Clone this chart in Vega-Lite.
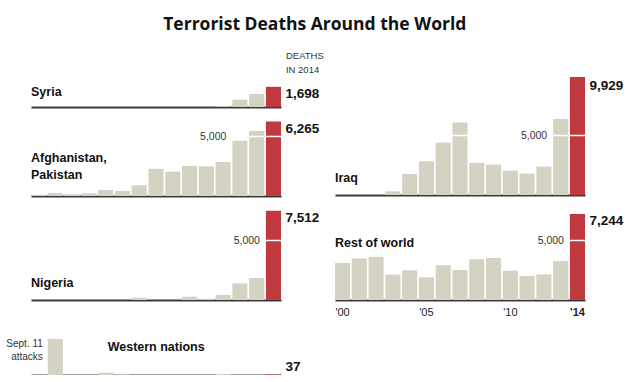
{
  "$schema": "https://vega.github.io/schema/vega-lite/v6.json",
  "background": "white",
  "padding": {"left": 6, "top": 15, "right": 0, "bottom": 0},
  "title": {"text": "Terrorist Deaths Around the World", "font": "Open Sans", "fontSize": 17.5, "fontWeight": "bold", "color": "#111", "anchor": "middle", "dx": 0, "offset": 14},
  "datasets": {
    "deaths": [
      {"region": "Syria", "year": 2011, "deaths": 60},
      {"region": "Syria", "year": 2012, "deaths": 620},
      {"region": "Syria", "year": 2013, "deaths": 1100},
      {"region": "Syria", "year": 2014, "deaths": 1698},
      {"region": "Afghanistan, Pakistan", "year": 2000, "deaths": 110},
      {"region": "Afghanistan, Pakistan", "year": 2001, "deaths": 250},
      {"region": "Afghanistan, Pakistan", "year": 2002, "deaths": 140},
      {"region": "Afghanistan, Pakistan", "year": 2003, "deaths": 225},
      {"region": "Afghanistan, Pakistan", "year": 2004, "deaths": 505},
      {"region": "Afghanistan, Pakistan", "year": 2005, "deaths": 420},
      {"region": "Afghanistan, Pakistan", "year": 2006, "deaths": 900},
      {"region": "Afghanistan, Pakistan", "year": 2007, "deaths": 2300},
      {"region": "Afghanistan, Pakistan", "year": 2008, "deaths": 2050},
      {"region": "Afghanistan, Pakistan", "year": 2009, "deaths": 2530},
      {"region": "Afghanistan, Pakistan", "year": 2010, "deaths": 2500},
      {"region": "Afghanistan, Pakistan", "year": 2011, "deaths": 2870},
      {"region": "Afghanistan, Pakistan", "year": 2012, "deaths": 4640},
      {"region": "Afghanistan, Pakistan", "year": 2013, "deaths": 5480},
      {"region": "Afghanistan, Pakistan", "year": 2014, "deaths": 6265},
      {"region": "Nigeria", "year": 2006, "deaths": 200},
      {"region": "Nigeria", "year": 2009, "deaths": 280},
      {"region": "Nigeria", "year": 2010, "deaths": 110},
      {"region": "Nigeria", "year": 2011, "deaths": 420},
      {"region": "Nigeria", "year": 2012, "deaths": 1400},
      {"region": "Nigeria", "year": 2013, "deaths": 1850},
      {"region": "Nigeria", "year": 2014, "deaths": 7512},
      {"region": "Western nations", "year": 2001, "deaths": 3030},
      {"region": "Western nations", "year": 2004, "deaths": 200},
      {"region": "Western nations", "year": 2005, "deaths": 56},
      {"region": "Western nations", "year": 2011, "deaths": 80},
      {"region": "Western nations", "year": 2014, "deaths": 37},
      {"region": "Iraq", "year": 2003, "deaths": 310},
      {"region": "Iraq", "year": 2004, "deaths": 1770},
      {"region": "Iraq", "year": 2005, "deaths": 2840},
      {"region": "Iraq", "year": 2006, "deaths": 4410},
      {"region": "Iraq", "year": 2007, "deaths": 6100},
      {"region": "Iraq", "year": 2008, "deaths": 2700},
      {"region": "Iraq", "year": 2009, "deaths": 2560},
      {"region": "Iraq", "year": 2010, "deaths": 2050},
      {"region": "Iraq", "year": 2011, "deaths": 1800},
      {"region": "Iraq", "year": 2012, "deaths": 2390},
      {"region": "Iraq", "year": 2013, "deaths": 6400},
      {"region": "Iraq", "year": 2014, "deaths": 9929},
      {"region": "Rest of world", "year": 2000, "deaths": 3120},
      {"region": "Rest of world", "year": 2001, "deaths": 3510},
      {"region": "Rest of world", "year": 2002, "deaths": 3625},
      {"region": "Rest of world", "year": 2003, "deaths": 2140},
      {"region": "Rest of world", "year": 2004, "deaths": 2500},
      {"region": "Rest of world", "year": 2005, "deaths": 1910},
      {"region": "Rest of world", "year": 2006, "deaths": 2920},
      {"region": "Rest of world", "year": 2007, "deaths": 2530},
      {"region": "Rest of world", "year": 2008, "deaths": 3430},
      {"region": "Rest of world", "year": 2009, "deaths": 3540},
      {"region": "Rest of world", "year": 2010, "deaths": 2470},
      {"region": "Rest of world", "year": 2011, "deaths": 2020},
      {"region": "Rest of world", "year": 2012, "deaths": 2160},
      {"region": "Rest of world", "year": 2013, "deaths": 3290},
      {"region": "Rest of world", "year": 2014, "deaths": 7244}
    ]
  },
  "spacing": 10,
  "hconcat": [
    {
      "spacing": 0,
      "bounds": "flush",
      "vconcat": [
        {
          "width": 250, "height": 60,
          "data": {"name": "deaths"},
          "transform": [{"filter": "datum.region === 'Syria'"}],
          "layer": [
            {"mark": {"type": "bar"}, "encoding": {
              "x": {"field": "year", "type": "ordinal", "title": null, "scale": {"domain": [2000,2001,2002,2003,2004,2005,2006,2007,2008,2009,2010,2011,2012,2013,2014], "paddingInner": 0.1, "paddingOuter": 0}},
              "y": {"field": "deaths", "type": "quantitative", "axis": null, "scale": {"domain": [0, 5050], "nice": false}},
              "color": {"condition": {"test": "datum.year === 2014", "value": "#c0393f"}, "value": "#d4d3c3"}}},
            {"transform": [{"filter": "datum.year === 2014"}], "mark": {"type": "text", "align": "left", "baseline": "top", "dx": 12, "dy": 0, "fontSize": 13.5, "fontWeight": "bold", "color": "#111"}, "encoding": {"x": {"field": "year", "type": "ordinal"}, "y": {"field": "deaths", "type": "quantitative"}, "text": {"field": "deaths", "type": "quantitative", "format": ","}}},
            {"data": {"values": [{}]}, "mark": {"type": "text", "text": "Syria", "align": "left", "baseline": "alphabetic", "dx": -7.55, "fontSize": 12.5, "fontWeight": "bold", "color": "#111"}, "encoding": {"x": {"datum": 2000, "type": "ordinal"}, "y": {"datum": 960}}},
            {"data": {"values": [{}]}, "mark": {"type": "text", "text": ["DEATHS", "IN 2014"], "align": "left", "baseline": "middle", "dx": 12.5, "lineHeight": 14, "fontSize": 9.5, "color": "#333"}, "encoding": {"x": {"datum": 2014, "type": "ordinal"}, "y": {"datum": 4268}}}
          ]
        },
        {
          "width": 250, "height": 89,
          "data": {"name": "deaths"},
          "transform": [{"filter": "datum.region === 'Afghanistan, Pakistan'"}],
          "layer": [
            {"mark": {"type": "bar"}, "encoding": {
              "x": {"field": "year", "type": "ordinal", "title": null, "scale": {"domain": [2000,2001,2002,2003,2004,2005,2006,2007,2008,2009,2010,2011,2012,2013,2014], "paddingInner": 0.1, "paddingOuter": 0}},
              "y": {"field": "deaths", "type": "quantitative", "axis": null, "scale": {"domain": [0, 7492], "nice": false}},
              "color": {"condition": {"test": "datum.year === 2014", "value": "#c0393f"}, "value": "#d4d3c3"}}},
            {"data": {"values": [{}]}, "mark": {"type": "rule", "color": "white", "strokeWidth": 1.5}, "encoding": {"y": {"datum": 5000}}},
            {"data": {"values": [{}]}, "mark": {"type": "text", "text": "5,000", "align": "right", "baseline": "middle", "dx": -13.5, "fontSize": 10.5, "color": "#333"}, "encoding": {"x": {"datum": 2012, "type": "ordinal"}, "y": {"datum": 5000}}},
            {"transform": [{"filter": "datum.year === 2014"}], "mark": {"type": "text", "align": "left", "baseline": "top", "dx": 12, "dy": 0, "fontSize": 13.5, "fontWeight": "bold", "color": "#111"}, "encoding": {"x": {"field": "year", "type": "ordinal"}, "y": {"field": "deaths", "type": "quantitative"}, "text": {"field": "deaths", "type": "quantitative", "format": ","}}},
            {"data": {"values": [{}]}, "mark": {"type": "text", "text": ["Afghanistan,", "Pakistan"], "align": "left", "baseline": "alphabetic", "dx": -7.55, "lineHeight": 17, "fontSize": 12.5, "fontWeight": "bold", "color": "#111"}, "encoding": {"x": {"datum": 2000, "type": "ordinal"}, "y": {"datum": 2890}}}
          ]
        },
        {
          "width": 250, "height": 104,
          "data": {"name": "deaths"},
          "transform": [{"filter": "datum.region === 'Nigeria'"}],
          "layer": [
            {"mark": {"type": "bar"}, "encoding": {
              "x": {"field": "year", "type": "ordinal", "title": null, "scale": {"domain": [2000,2001,2002,2003,2004,2005,2006,2007,2008,2009,2010,2011,2012,2013,2014], "paddingInner": 0.1, "paddingOuter": 0}},
              "y": {"field": "deaths", "type": "quantitative", "axis": null, "scale": {"domain": [0, 8754], "nice": false}},
              "color": {"condition": {"test": "datum.year === 2014", "value": "#c0393f"}, "value": "#d4d3c3"}}},
            {"data": {"values": [{}]}, "mark": {"type": "rule", "color": "white", "strokeWidth": 1.5}, "encoding": {"y": {"datum": 5000}}},
            {"data": {"values": [{}]}, "mark": {"type": "text", "text": "5,000", "align": "right", "baseline": "middle", "dx": -13.5, "fontSize": 10.5, "color": "#333"}, "encoding": {"x": {"datum": 2014, "type": "ordinal"}, "y": {"datum": 5000}}},
            {"transform": [{"filter": "datum.year === 2014"}], "mark": {"type": "text", "align": "left", "baseline": "top", "dx": 12, "dy": 0, "fontSize": 13.5, "fontWeight": "bold", "color": "#111"}, "encoding": {"x": {"field": "year", "type": "ordinal"}, "y": {"field": "deaths", "type": "quantitative"}, "text": {"field": "deaths", "type": "quantitative", "format": ","}}},
            {"data": {"values": [{}]}, "mark": {"type": "text", "text": "Nigeria", "align": "left", "baseline": "alphabetic", "dx": -7.55, "fontSize": 12.5, "fontWeight": "bold", "color": "#111"}, "encoding": {"x": {"datum": 2000, "type": "ordinal"}, "y": {"datum": 1060}}}
          ]
        },
        {
          "width": 250, "height": 75,
          "data": {"name": "deaths"},
          "transform": [{"filter": "datum.region === 'Western nations'"}],
          "layer": [
            {"mark": {"type": "bar"}, "encoding": {
              "x": {"field": "year", "type": "ordinal", "title": null, "scale": {"domain": [2000,2001,2002,2003,2004,2005,2006,2007,2008,2009,2010,2011,2012,2013,2014], "paddingInner": 0.1, "paddingOuter": 0}},
              "y": {"field": "deaths", "type": "quantitative", "axis": null, "scale": {"domain": [0, 6313], "nice": false}},
              "color": {"condition": {"test": "datum.year === 2014", "value": "#c0393f"}, "value": "#d4d3c3"}}},
            {"transform": [{"filter": "datum.year === 2014"}], "mark": {"type": "text", "align": "left", "baseline": "alphabetic", "dx": 12, "dy": -4, "fontSize": 13.5, "fontWeight": "bold", "color": "#111"}, "encoding": {"x": {"field": "year", "type": "ordinal"}, "y": {"field": "deaths", "type": "quantitative"}, "text": {"field": "deaths", "type": "quantitative", "format": ","}}},
            {"data": {"values": [{}]}, "mark": {"type": "text", "text": "Western nations", "align": "left", "baseline": "alphabetic", "dx": 2, "fontSize": 12.5, "fontWeight": "bold", "color": "#111"}, "encoding": {"x": {"datum": 2004, "type": "ordinal"}, "y": {"datum": 2046}}},
            {"data": {"values": [{}]}, "mark": {"type": "text", "text": ["Sept. 11", "attacks"], "align": "right", "baseline": "middle", "dx": -12.5, "lineHeight": 13, "fontSize": 10, "color": "#333"}, "encoding": {"x": {"datum": 2001, "type": "ordinal"}, "y": {"datum": 2609}}}
          ]
        }
      ]
    },
    {
      "spacing": 0,
      "bounds": "flush",
      "vconcat": [
        {
          "width": 250, "height": 148,
          "data": {"name": "deaths"},
          "transform": [{"filter": "datum.region === 'Iraq'"}],
          "layer": [
            {"mark": {"type": "bar"}, "encoding": {
              "x": {"field": "year", "type": "ordinal", "title": null, "scale": {"domain": [2000,2001,2002,2003,2004,2005,2006,2007,2008,2009,2010,2011,2012,2013,2014], "paddingInner": 0.1, "paddingOuter": 0}},
              "y": {"field": "deaths", "type": "quantitative", "axis": null, "scale": {"domain": [0, 12458], "nice": false}},
              "color": {"condition": {"test": "datum.year === 2014", "value": "#c0393f"}, "value": "#d4d3c3"}}},
            {"data": {"values": [{}]}, "mark": {"type": "rule", "color": "white", "strokeWidth": 1.5}, "encoding": {"y": {"datum": 5000}}},
            {"data": {"values": [{}]}, "mark": {"type": "text", "text": "5,000", "align": "right", "baseline": "middle", "dx": -13.5, "fontSize": 10.5, "color": "#333"}, "encoding": {"x": {"datum": 2013, "type": "ordinal"}, "y": {"datum": 5000}}},
            {"transform": [{"filter": "datum.year === 2014"}], "mark": {"type": "text", "align": "left", "baseline": "top", "dx": 12, "dy": 2, "fontSize": 13.5, "fontWeight": "bold", "color": "#111"}, "encoding": {"x": {"field": "year", "type": "ordinal"}, "y": {"field": "deaths", "type": "quantitative"}, "text": {"field": "deaths", "type": "quantitative", "format": ","}}},
            {"data": {"values": [{}]}, "mark": {"type": "text", "text": "Iraq", "align": "left", "baseline": "alphabetic", "dx": -7.55, "fontSize": 12.5, "fontWeight": "bold", "color": "#111"}, "encoding": {"x": {"datum": 2000, "type": "ordinal"}, "y": {"datum": 1060}}}
          ]
        },
        {
          "width": 250, "height": 105,
          "data": {"name": "deaths"},
          "transform": [{"filter": "datum.region === 'Rest of world'"}],
          "layer": [
            {"mark": {"type": "bar"}, "encoding": {
              "x": {"field": "year", "type": "ordinal", "title": null, "scale": {"domain": [2000,2001,2002,2003,2004,2005,2006,2007,2008,2009,2010,2011,2012,2013,2014], "paddingInner": 0.1, "paddingOuter": 0},
                "axis": {"labels": true, "labelExpr": "indexof([2000, 2005, 2010, 2014], datum.value) >= 0 ? \"'\" + substring(toString(datum.value), 2) : ''", "labelAngle": 0, "labelOverlap": false, "labelBound": false, "labelFontSize": 11, "labelPadding": 6, "labelColor": "#222", "labelFont": "Liberation Sans", "labelFontWeight": {"condition": {"test": "datum.value === 2014", "value": "bold"}, "value": "normal"}}},
              "y": {"field": "deaths", "type": "quantitative", "axis": null, "scale": {"domain": [0, 8838], "nice": false}},
              "color": {"condition": {"test": "datum.year === 2014", "value": "#c0393f"}, "value": "#d4d3c3"}}},
            {"data": {"values": [{}]}, "mark": {"type": "rule", "color": "white", "strokeWidth": 1.5}, "encoding": {"y": {"datum": 5000}}},
            {"data": {"values": [{}]}, "mark": {"type": "text", "text": "5,000", "align": "right", "baseline": "middle", "dx": -13.5, "fontSize": 10.5, "color": "#333"}, "encoding": {"x": {"datum": 2014, "type": "ordinal"}, "y": {"datum": 5000}}},
            {"transform": [{"filter": "datum.year === 2014"}], "mark": {"type": "text", "align": "left", "baseline": "top", "dx": 12, "dy": 0, "fontSize": 13.5, "fontWeight": "bold", "color": "#111"}, "encoding": {"x": {"field": "year", "type": "ordinal"}, "y": {"field": "deaths", "type": "quantitative"}, "text": {"field": "deaths", "type": "quantitative", "format": ","}}},
            {"data": {"values": [{}]}, "mark": {"type": "text", "text": "Rest of world", "align": "left", "baseline": "alphabetic", "dx": -7.55, "fontSize": 12.5, "fontWeight": "bold", "color": "#111"}, "encoding": {"x": {"datum": 2000, "type": "ordinal"}, "y": {"datum": 4500}}}
          ]
        }
      ]
    }
  ],
  "config": {
    "view": {"stroke": null},
    "font": "Liberation Sans",
    "axisX": {"labels": false, "ticks": false, "domain": true, "domainColor": "#3a3a3a", "domainWidth": 2, "grid": false, "zindex": 1, "title": null}
  }
}
